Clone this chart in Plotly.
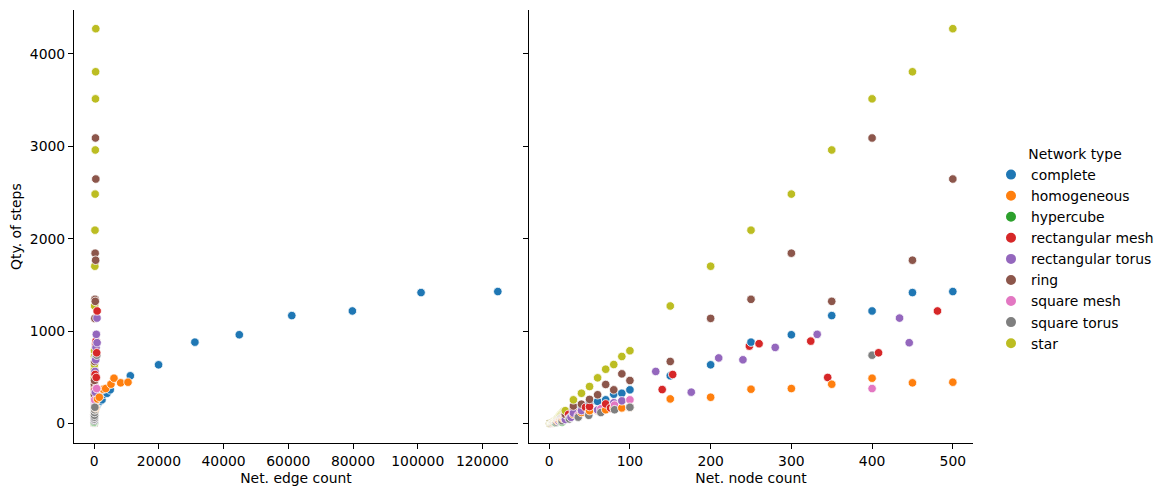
import plotly.graph_objects as go

W, H = 1167, 496

types = ["complete", "homogeneous", "hypercube", "rectangular mesh",
         "rectangular torus", "ring", "square mesh", "square torus", "star"]
colors = ["#1f77b4", "#ff7f0e", "#2ca02c", "#d62728", "#9467bd",
          "#8c564b", "#e377c2", "#7f7f7f", "#bcbd22"]

# --- data per network type: node counts, edge counts, steps ---
complete_nodes = [1, 2, 3, 4, 5, 6, 7, 8, 9, 10, 11, 12, 13, 14, 15, 16, 17, 18, 19, 20,
                  30, 40, 50, 60, 70, 80, 90, 100, 150, 200, 250, 300, 350, 400, 450, 500]
complete_edges = [0, 1, 3, 6, 10, 15, 21, 28, 36, 45, 55, 66, 78, 91, 105, 120, 136, 153, 171, 190,
                  435, 780, 1225, 1770, 2415, 3160, 4005, 4950, 11175, 19900, 31125, 44850, 61075, 79800, 101025, 124750]
complete_steps = [0, 1, 3, 5, 8, 12, 17, 25, 32, 40, 45, 50, 55, 60, 65, 70, 75, 80, 85, 90,
                  150, 190, 220, 240, 257, 318, 328, 365, 517, 636, 881, 961, 1168, 1218, 1417, 1428]

homog_nodes = [1, 2, 3, 4, 5, 6, 7, 8, 9, 10, 11, 12, 13, 14, 15, 16, 17, 18, 19, 20,
               30, 40, 50, 60, 70, 80, 90, 100, 150, 200, 250, 300, 350, 400, 450, 500]
homog_edges = [0, 1, 2, 3, 4, 6, 8, 10, 12, 15, 17, 19, 22, 25, 28, 31, 34, 37, 39, 40,
               70, 100, 150, 200, 250, 300, 360, 450, 1000, 1580, 2800, 3550, 5190, 6120, 8190, 10450]
homog_steps = [0, 1, 2, 4, 6, 10, 14, 20, 25, 30, 33, 36, 40, 44, 48, 52, 56, 60, 65, 70,
               100, 120, 140, 140, 150, 168, 170, 175, 267, 285, 372, 379, 426, 491, 441, 448]

hyper_nodes = [2, 4, 8, 16]
hyper_edges = [1, 4, 12, 32]
hyper_steps = [1, 3, 8, 18]

rmesh_nodes = [4, 6, 12, 20, 24, 30, 45, 50, 70, 76, 140, 153, 248, 260, 324, 345, 408, 481]
rmesh_edges = [4, 7, 17, 31, 38, 49, 76, 85, 123, 129, 256, 280, 457, 487, 612, 652, 775, 912]
rmesh_steps = [6, 20, 50, 80, 100, 130, 177, 184, 213, 170, 368, 531, 838, 864, 892, 499, 766, 1218]

rtorus_nodes = [4, 6, 12, 20, 27, 30, 40, 60, 80, 90, 132, 176, 210, 240, 280, 332, 434, 446]
rtorus_edges = [8, 12, 24, 40, 54, 60, 80, 120, 160, 180, 264, 352, 420, 480, 560, 664, 868, 892]
rtorus_steps = [5, 15, 30, 45, 68, 114, 141, 148, 225, 246, 564, 340, 710, 690, 824, 965, 1141, 875]

ring_nodes = [1, 2, 3, 4, 5, 6, 7, 8, 9, 10, 11, 12, 13, 14, 15, 16, 17, 18, 19, 20,
              30, 40, 50, 60, 70, 80, 90, 100, 150, 200, 250, 300, 350, 400, 450, 500]
ring_edges = [0, 1, 3, 4, 5, 6, 7, 8, 9, 10, 11, 12, 13, 14, 15, 16, 17, 18, 19, 20,
              30, 40, 50, 60, 70, 80, 90, 100, 150, 200, 250, 300, 350, 400, 450, 500]
ring_steps = [0, 1, 3, 6, 10, 15, 20, 30, 40, 50, 55, 60, 65, 70, 75, 80, 85, 90, 95, 100,
              190, 210, 262, 312, 423, 365, 538, 466, 672, 1138, 1344, 1843, 1322, 3089, 1767, 2645]

smesh_nodes = [4, 9, 16, 25, 36, 49, 64, 81, 100, 400]
smesh_edges = [4, 12, 24, 40, 60, 84, 112, 144, 180, 760]
smesh_steps = [5, 20, 40, 60, 90, 120, 160, 200, 257, 379]

storus_nodes = [4, 9, 16, 25, 36, 49, 64, 81, 100, 400]
storus_edges = [8, 18, 32, 50, 72, 98, 128, 162, 200, 800]
storus_steps = [5, 15, 30, 50, 70, 90, 120, 150, 177, 740]

star_nodes = [1, 2, 3, 4, 5, 6, 7, 8, 9, 10, 11, 12, 13, 14, 15, 16, 17, 18, 19, 20,
              30, 40, 50, 60, 70, 80, 90, 100, 150, 200, 250, 300, 350, 400, 450, 500]
star_edges = [0, 1, 2, 3, 4, 5, 6, 7, 8, 9, 10, 11, 12, 13, 14, 15, 16, 17, 18, 19,
              29, 39, 49, 59, 69, 79, 89, 99, 149, 199, 249, 299, 349, 399, 449, 499]
star_steps = [0, 1, 4, 8, 13, 20, 27, 35, 42, 50, 60, 70, 80, 90, 100, 110, 120, 130, 135, 140,
              257, 328, 401, 495, 588, 639, 726, 788, 1272, 1702, 2092, 2482, 2959, 3512, 3805, 4271]

series = [
    (complete_nodes, complete_edges, complete_steps),
    (homog_nodes, homog_edges, homog_steps),
    (hyper_nodes, hyper_edges, hyper_steps),
    (rmesh_nodes, rmesh_edges, rmesh_steps),
    (rtorus_nodes, rtorus_edges, rtorus_steps),
    (ring_nodes, ring_edges, ring_steps),
    (smesh_nodes, smesh_edges, smesh_steps),
    (storus_nodes, storus_edges, storus_steps),
    (star_nodes, star_edges, star_steps),
]

edge_ticks = [0, 20000, 40000, 60000, 80000, 100000, 120000]
node_ticks = [0, 100, 200, 300, 400, 500]
step_ticks = [0, 1000, 2000, 3000, 4000]

FONT = "DejaVu Sans"
FS = 13.9

# Combine rows, ordered by node count (drawing order like the source data)
rows = []
for ti, (nodes, edges, steps) in enumerate(series):
    for n, e, s in zip(nodes, edges, steps):
        rows.append((n, ti, e, s))
rows.sort(key=lambda r: (r[0], r[1]))
all_nodes = [r[0] for r in rows]
all_edges = [r[2] for r in rows]
all_steps = [r[3] for r in rows]
all_cols = [colors[r[1]] for r in rows]
all_names = [types[r[1]] for r in rows]

mk = dict(color=all_cols, size=8.5, line=dict(color="white", width=0.8))

fig = go.Figure()
fig.add_trace(go.Scatter(x=all_edges, y=all_steps, mode="markers", marker=mk,
                         text=all_names, showlegend=False, xaxis="x", yaxis="y"))
fig.add_trace(go.Scatter(x=all_nodes, y=all_steps, mode="markers", marker=mk,
                         text=all_names, showlegend=False, xaxis="x2", yaxis="y2"))
# legend entries
for name, col in zip(types, colors):
    fig.add_trace(go.Scatter(x=[None], y=[None], mode="markers", name=name,
                             marker=dict(color=col, size=8.5, line=dict(color="white", width=0.8)),
                             showlegend=True, xaxis="x2", yaxis="y2"))

axis_common = dict(showline=True, linecolor="black", linewidth=1.1,
                   ticks="outside", ticklen=5, tickwidth=1.1, tickcolor="black",
                   showgrid=False, zeroline=False, automargin=False,
                   tickfont=dict(family=FONT, size=FS, color="black"))

ydom = [1 - 443.3 / H, 1 - 10 / H]

fig.update_layout(
    width=W, height=H,
    margin=dict(l=0, r=0, t=0, b=0),
    paper_bgcolor="white", plot_bgcolor="white",
    font=dict(family=FONT, size=FS, color="black"),
    xaxis=dict(domain=[74 / W, 518 / W], range=[-6237, 130987],
               tickmode="array", tickvals=edge_ticks,
               ticktext=[str(v) for v in edge_ticks],
               title=dict(text="Net. edge count", standoff=5,
                          font=dict(family=FONT, size=FS)),
               anchor="y", **axis_common),
    yaxis=dict(domain=ydom, range=[-213, 4473],
               tickmode="array", tickvals=step_ticks,
               ticktext=[str(v) for v in step_ticks],
               title=dict(text="Qty. of steps", standoff=4,
                          font=dict(family=FONT, size=FS)),
               anchor="x", **axis_common),
    xaxis2=dict(domain=[529 / W, 973 / W], range=[-25, 525],
                tickmode="array", tickvals=node_ticks,
                ticktext=[str(v) for v in node_ticks],
                title=dict(text="Net. node count", standoff=5,
                           font=dict(family=FONT, size=FS)),
                anchor="y2", **axis_common),
    yaxis2=dict(domain=ydom, range=[-213, 4473], matches="y",
                tickmode="array", tickvals=step_ticks,
                showticklabels=False, anchor="x2", **axis_common),
    legend=dict(x=991 / W, y=1 - 141 / H, xanchor="left", yanchor="top",
                title=dict(text="Network type", side="top center",
                           font=dict(family=FONT, size=FS)),
                font=dict(family=FONT, size=FS), traceorder="normal",
                itemsizing="constant", bgcolor="rgba(0,0,0,0)"),
)

fig.write_html("out.html")
